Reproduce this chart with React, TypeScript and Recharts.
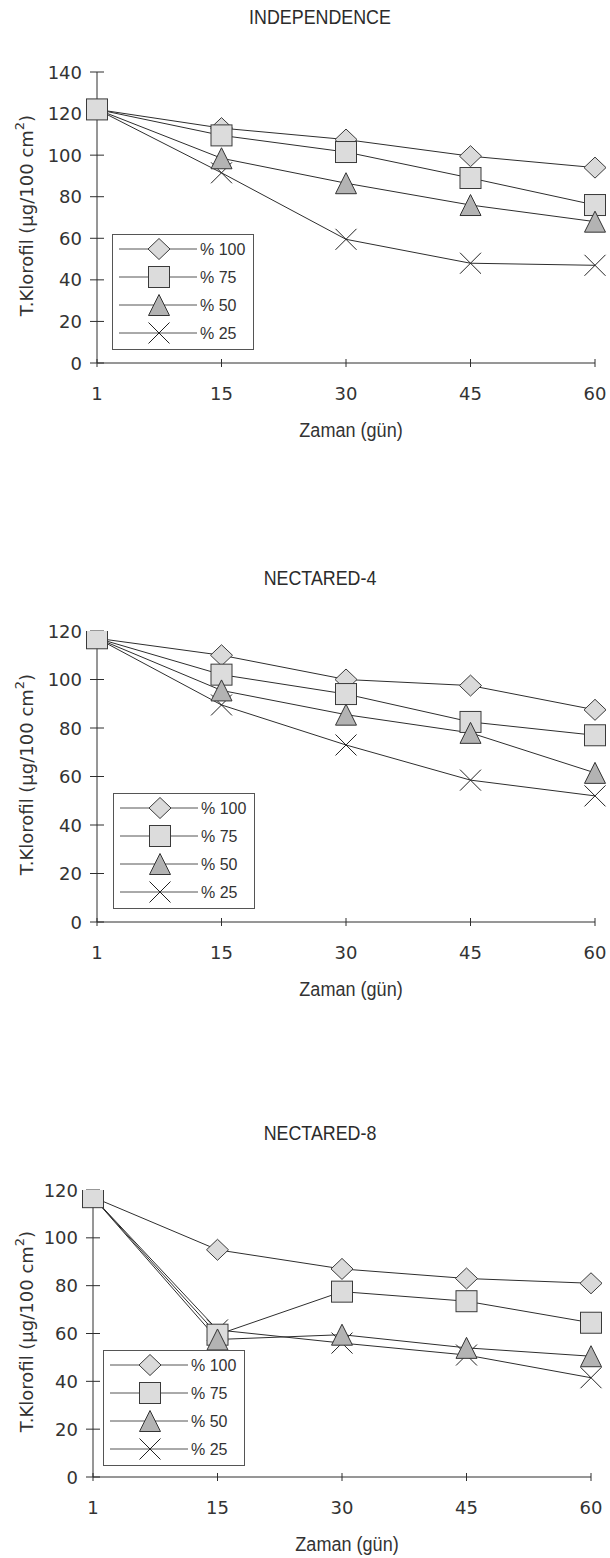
import { LineChart, Line, XAxis, YAxis, Legend } from 'recharts'

const days = ['1', '15', '30', '45', '60']
const legendLabels = ['% 100', '% 75', '% 50', '% 25']

// INDEPENDENCE
const indP100 = [122, 113, 107.5, 99.5, 94]
const indP75 = [122, 109.5, 101.5, 89, 76]
const indP50 = [122, 98.5, 86.5, 76, 68]
const indP25 = [122, 91.5, 59.5, 48, 47]

// NECTARED-4
const n4P100 = [117, 110, 100, 97.5, 87.5]
const n4P75 = [117, 102, 94, 82.5, 77]
const n4P50 = [117, 95.5, 85.5, 78, 61.5]
const n4P25 = [117, 89.5, 73, 58.5, 52]

// NECTARED-8
const n8P100 = [117, 95, 87, 83, 81]
const n8P75 = [117, 59.5, 77.5, 73.5, 64.5]
const n8P50 = [117, 57.5, 59.5, 54, 50.5]
const n8P25 = [117, 61.5, 56, 51, 41.5]

const ticks140 = [0, 20, 40, 60, 80, 100, 120, 140]
const ticks120 = [0, 20, 40, 60, 80, 100, 120]

const FONT = 'DejaVu Sans'
const NARROW = 'Liberation Sans'
const INK = '#2e2e2e'

type Shape = 'diamond' | 'square' | 'triangle' | 'cross'
const KEYS = ['p100', 'p75', 'p50', 'p25']
const SHAPES: Record<string, Shape> = { p100: 'diamond', p75: 'square', p50: 'triangle', p25: 'cross' }
// draw order so the square sits on top at day 1, like the original
const DRAW_ORDER = ['p100', 'p25', 'p75', 'p50']

const rowsOf = (a: number[], b: number[], c: number[], d: number[]) =>
  days.map((day, i) => ({ day, p100: a[i], p75: b[i], p50: c[i], p25: d[i] }))

function Marker({ shape, cx, cy }: { shape: Shape; cx: number; cy: number }) {
  const r = 10.5
  if (shape === 'diamond')
    return (
      <polygon
        points={`${cx},${cy - r} ${cx + 11},${cy} ${cx},${cy + r} ${cx - 11},${cy}`}
        fill="#dadada"
        stroke="#3a3a3a"
      />
    )
  if (shape === 'square')
    return <rect x={cx - r} y={cy - r} width={2 * r} height={2 * r} fill="#dcdcdc" stroke="#3a3a3a" />
  if (shape === 'triangle')
    return (
      <polygon
        points={`${cx},${cy - r} ${cx + r},${cy + r} ${cx - r},${cy + r}`}
        fill="#b3b3b3"
        stroke="#333"
      />
    )
  return (
    <g stroke="#222" strokeWidth={1}>
      <line x1={cx - r} y1={cy - r} x2={cx + r} y2={cy + r} />
      <line x1={cx - r} y1={cy + r} x2={cx + r} y2={cy - r} />
    </g>
  )
}

const dotFor = (key: string) => (p: any) => {
  const k = `${key}-${p.index}`
  // only one marker is shown on the shared starting point
  if (p.index === 0 && key !== 'p75') return <g key={k} />
  return (
    <g key={k}>
      <Marker shape={SHAPES[key]} cx={p.cx} cy={p.cy} />
    </g>
  )
}

function YTick({ x, y, payload }: any) {
  return (
    <g>
      <line x1={x - 7} x2={x + 7} y1={y} y2={y} stroke={INK} />
      <text x={x - 15} y={y} textAnchor="end" dominantBaseline="central" fontFamily={FONT} fontSize={18} fill="#333">
        {payload.value}
      </text>
    </g>
  )
}

function XTick({ x, y, payload }: any) {
  return (
    <g>
      <line x1={x} x2={x} y1={y - 4} y2={y + 4} stroke={INK} />
      <text x={x} y={y + 30} textAnchor="middle" dominantBaseline="central" fontFamily={FONT} fontSize={18} fill="#333">
        {payload.value}
      </text>
    </g>
  )
}

function XLabel(props: any) {
  const vb = props.viewBox || {}
  const cx = vb.x + vb.width / 2 + 5
  const cy = vb.y + 66
  return (
    <text
      transform={`translate(${cx},${cy}) scale(0.86,1)`}
      textAnchor="middle"
      dominantBaseline="central"
      fontFamily={NARROW}
      fontSize={21}
      fill="#333"
    >
      Zaman (gün)
    </text>
  )
}

function YLabel(props: any) {
  const vb = props.viewBox || {}
  const cx = 26
  const cy = vb.y + vb.height / 2 - 2
  return (
    <text
      transform={`translate(${cx},${cy}) rotate(-90)`}
      textAnchor="middle"
      dominantBaseline="central"
      fontFamily={FONT}
      fontSize={18}
      fill="#333"
    >
      T.Klorofil (µg/100 cm
      <tspan dy={-7} fontSize={13}>2</tspan>
      <tspan dy={7}>)</tspan>
    </text>
  )
}

function LegendBox() {
  return (
    <div style={{ width: 142, height: 116, border: '1px solid #555', boxSizing: 'border-box', background: '#fff' }}>
      <svg width={140} height={114} style={{ display: 'block' }}>
        {KEYS.map((k, i) => {
          const y = 14 + i * 28
          return (
            <g key={k}>
              <line x1={6} x2={84} y1={y} y2={y} stroke="#555" />
              <Marker shape={SHAPES[k]} cx={46} cy={y} />
              <text x={87} y={y} dominantBaseline="central" fontFamily={NARROW} fontSize={16} fill="#333">
                {legendLabels[i]}
              </text>
            </g>
          )
        })}
      </svg>
    </div>
  )
}

type PanelProps = {
  title: string
  rows: any[]
  yMax: number
  yTicks: number[]
  top: number
  titleY: number
  plotTop: number
  axisX: number
  plotRight: number
  legendLeft: number
  legendTop: number
}

function Panel(p: PanelProps) {
  const margin = { top: p.plotTop, right: 610 - p.plotRight, bottom: 0, left: 5 }
  const layer = { position: 'absolute' as const, left: 0, top: 0 }
  return (
    <div style={{ position: 'absolute', left: 0, top: p.top, width: 610, height: 450 }}>
      <div
        style={{
          position: 'absolute',
          left: 0,
          width: 640,
          top: p.titleY - 12,
          lineHeight: '24px',
          textAlign: 'center',
          fontFamily: NARROW,
          fontSize: 21,
          color: '#2b2b2b',
          transform: 'scaleX(0.85)',
        }}
      >
        {p.title}
      </div>
      {/* axes layer, underneath the series */}
      <div style={layer}>
        <LineChart width={610} height={443} data={p.rows} margin={margin}>
          <XAxis
            dataKey="day"
            height={80}
            interval={0}
            axisLine={{ stroke: INK }}
            tickLine={false}
            tickSize={0}
            tickMargin={0}
            tick={<XTick />}
            label={XLabel}
          />
          <YAxis
            width={p.axisX - 5}
            domain={[0, p.yMax]}
            allowDataOverflow
            ticks={p.yTicks}
            interval={0}
            axisLine={{ stroke: INK }}
            tickLine={false}
            tickSize={0}
            tickMargin={0}
            tick={<YTick />}
            label={YLabel}
          />
          {KEYS.map((k) => (
            <Line key={k} dataKey={k} stroke="none" dot={false} activeDot={false} isAnimationActive={false} />
          ))}
        </LineChart>
      </div>
      {/* series + legend layer */}
      <div style={layer}>
        <LineChart width={610} height={443} data={p.rows} margin={margin}>
          <XAxis dataKey="day" height={80} interval={0} axisLine={false} tickLine={false} tick={false} />
          <YAxis
            width={p.axisX - 5}
            domain={[0, p.yMax]}
            allowDataOverflow
            ticks={p.yTicks}
            axisLine={false}
            tickLine={false}
            tick={false}
          />
          <Legend
            layout="horizontal"
            align="center"
            verticalAlign="middle"
            content={() => <LegendBox />}
            wrapperStyle={{ left: p.legendLeft, top: p.legendTop, width: 142, height: 116 }}
          />
          {DRAW_ORDER.map((k) => (
            <Line
              key={k}
              type="linear"
              dataKey={k}
              stroke={INK}
              strokeWidth={1}
              dot={dotFor(k)}
              activeDot={false}
              isAnimationActive={false}
            />
          ))}
        </LineChart>
      </div>
    </div>
  )
}

export default function App() {
  return (
    <div style={{ position: 'absolute', left: 0, top: 0, width: 610, height: 1558, background: '#fff' }}>
      <Panel
        title="INDEPENDENCE"
        rows={rowsOf(indP100, indP75, indP50, indP25)}
        yMax={140}
        yTicks={ticks140}
        top={0}
        titleY={17}
        plotTop={72}
        axisX={97}
        plotRight={595}
        legendLeft={112}
        legendTop={234}
      />
      <Panel
        title="NECTARED-4"
        rows={rowsOf(n4P100, n4P75, n4P50, n4P25)}
        yMax={120}
        yTicks={ticks120}
        top={559}
        titleY={19}
        plotTop={72}
        axisX={97}
        plotRight={595}
        legendLeft={113}
        legendTop={234}
      />
      <Panel
        title="NECTARED-8"
        rows={rowsOf(n8P100, n8P75, n8P50, n8P25)}
        yMax={120}
        yTicks={ticks120}
        top={1114}
        titleY={19}
        plotTop={76}
        axisX={93}
        plotRight={591}
        legendLeft={103}
        legendTop={236}
      />
    </div>
  )
}
